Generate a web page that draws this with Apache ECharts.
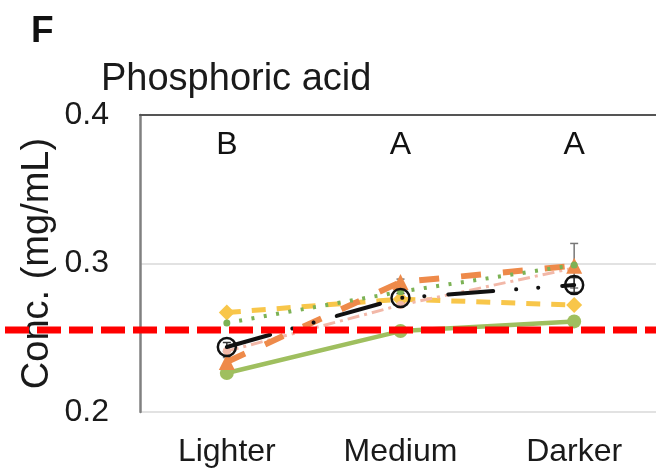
<!DOCTYPE html>
<html>
<head>
<meta charset="utf-8">
<script src="https://cdn.jsdelivr.net/npm/echarts@6/dist/echarts.min.js"></script>
<style>html,body{margin:0;padding:0;background:#fff}#c{width:656px;height:470px}</style>
</head>
<body>
<div id="c"></div>
<script>
const categories = ['Lighter', 'Medium', 'Darker'];
const letters = ['B', 'A', 'A'];
const letterLevel = [0.38, 0.38, 0.38];
const greenSolid = [0.2263, 0.2545, 0.2610];
const yellowDash = [0.2670, 0.2760, 0.2720];
const pinkDash = [0.2410, 0.2720, 0.2970];
const orangeDash = [0.2337, 0.2875, 0.2985];
const greenDot = [0.2600, 0.2810, 0.2990];
const meanLine = [0.2438, 0.2768, 0.2855];
const orangeErr = [0.003, 0.002, 0.015];
const meanErr = [0.003, 0.003, 0.005];
const thresholdValue = 0.2552;
const yTicks = [0.2, 0.3, 0.4];

const font = 'Liberation Sans, Arial, sans-serif';
const chart = echarts.init(document.getElementById('c'));

function errSeries(vals, errs, color) {
  return {
    type: 'custom', xAxisIndex: 0, yAxisIndex: 0, z: 3,
    data: vals.map((v, i) => [i, v - errs[i], v + errs[i]]),
    renderItem: function (params, api) {
      const lo = api.coord([api.value(0), api.value(1)]);
      const hi = api.coord([api.value(0), api.value(2)]);
      const w = 4;
      return { type: 'group', children: [
        { type: 'line', shape: { x1: hi[0], y1: hi[1], x2: lo[0], y2: lo[1] }, style: { stroke: color, lineWidth: 1.5 } },
        { type: 'line', shape: { x1: hi[0] - w, y1: hi[1], x2: hi[0] + w, y2: hi[1] }, style: { stroke: color, lineWidth: 1.5 } },
        { type: 'line', shape: { x1: lo[0] - w, y1: lo[1], x2: lo[0] + w, y2: lo[1] }, style: { stroke: color, lineWidth: 1.5 } }
      ]};
    }
  };
}

const option = {
  animation: false,
  backgroundColor: '#fff',
  title: [
    { text: 'F', left: 26, top: 8, textStyle: { fontFamily: font, fontWeight: 'bold', fontSize: 37, color: '#111' } },
    { text: 'Phosphoric acid', left: 96, top: 56, textStyle: { fontFamily: font, fontWeight: 'normal', fontSize: 38, color: '#1a1a1a' } }
  ],
  grid: [
    { left: 140, top: 115, width: 521, bottom: 58, outerBoundsMode: 'none', containLabel: false },
    { left: 5, top: 115, right: 0, bottom: 58, outerBoundsMode: 'none', containLabel: false }
  ],
  xAxis: [
    { type: 'category', gridIndex: 0, data: categories, boundaryGap: true,
      axisLine: { show: false }, axisTick: { show: false }, splitLine: { show: false },
      axisLabel: { fontFamily: font, fontSize: 32, color: '#1a1a1a', margin: 24 } },
    { type: 'category', gridIndex: 0, position: 'top', data: categories,
      axisLine: { show: true, lineStyle: { color: '#555', width: 2 } }, axisTick: { show: false }, axisLabel: { show: false } },
    { type: 'value', gridIndex: 1, min: 0, max: 1, show: false }
  ],
  yAxis: [
    { type: 'value', gridIndex: 0, min: 0.2, max: 0.4, interval: 0.1,
      name: 'Conc. (mg/mL)', nameLocation: 'middle', nameGap: 83, nameMoveOverlap: false,
      nameTextStyle: { fontFamily: font, fontSize: 38, color: '#1a1a1a' },
      axisLine: { show: true, lineStyle: { color: '#808080', width: 2.5 } }, axisTick: { show: false },
      splitLine: { show: true, lineStyle: { color: '#d9d9d9', width: 1.5 } },
      axisLabel: { fontFamily: font, fontSize: 32, color: '#1a1a1a', margin: 31, formatter: v => yTicks.includes(Math.round(v * 10) / 10) ? v.toFixed(1) : '' } },
    { type: 'value', gridIndex: 1, min: 0.2, max: 0.4, show: false }
  ],
  series: [
    { name: 'g1', type: 'line', data: greenSolid, z: 2, symbol: 'circle', symbolSize: 14,
      itemStyle: { color: '#9fbf5f' }, lineStyle: { color: '#9fbf5f', width: 4.5 } },
    { name: 'y1', type: 'line', data: yellowDash, z: 3, symbol: 'diamond', symbolSize: 16,
      itemStyle: { color: '#f8c64a' }, lineStyle: { color: '#f8c64a', width: 5, type: [14, 11] } },
    { name: 'p1', type: 'line', data: pinkDash, z: 3, symbol: 'circle', symbolSize: 8,
      itemStyle: { color: '#f2b8a8' }, lineStyle: { color: '#f2b8a8', width: 3, type: [12, 5, 3, 5] } },
    errSeries(orangeDash, orangeErr, '#777'),
    { name: 'o1', type: 'line', data: orangeDash, z: 4, symbol: 'triangle', symbolSize: 16,
      itemStyle: { color: '#ee8a4a' }, lineStyle: { color: '#ee8a4a', width: 6, type: [20, 22] } },
    { name: 'gd', type: 'line', data: greenDot, z: 4, symbol: 'circle', symbolSize: 7,
      itemStyle: { color: '#7cb255' }, lineStyle: { color: '#7cb255', width: 4, type: [3, 9.5] } },
    errSeries(meanLine, meanErr, '#333'),
    { name: 'mean', type: 'line', data: meanLine, z: 6, symbol: 'circle', symbolSize: 18,
      itemStyle: { color: 'rgba(0,0,0,0)', borderColor: '#111', borderWidth: 2.5 },
      lineStyle: { color: '#111', width: 4, cap: 'round', type: [45, 23, 0.1, 22, 0.1, 24] } },
    { name: 'letters', type: 'scatter', data: letterLevel, z: 7, symbolSize: 0,
      itemStyle: { opacity: 1 },
      label: { show: true, position: 'inside', formatter: p => letters[p.dataIndex],
        fontFamily: font, fontSize: 32, color: '#111', opacity: 1 } },
    { name: 'threshold', type: 'line', xAxisIndex: 2, yAxisIndex: 1, z: 20, symbol: 'none',
      data: [[0, thresholdValue], [1, thresholdValue]],
      lineStyle: { color: '#ff0000', width: 7, type: [24, 8] } }
  ]
};
chart.setOption(option);
</script>
</body>
</html>
